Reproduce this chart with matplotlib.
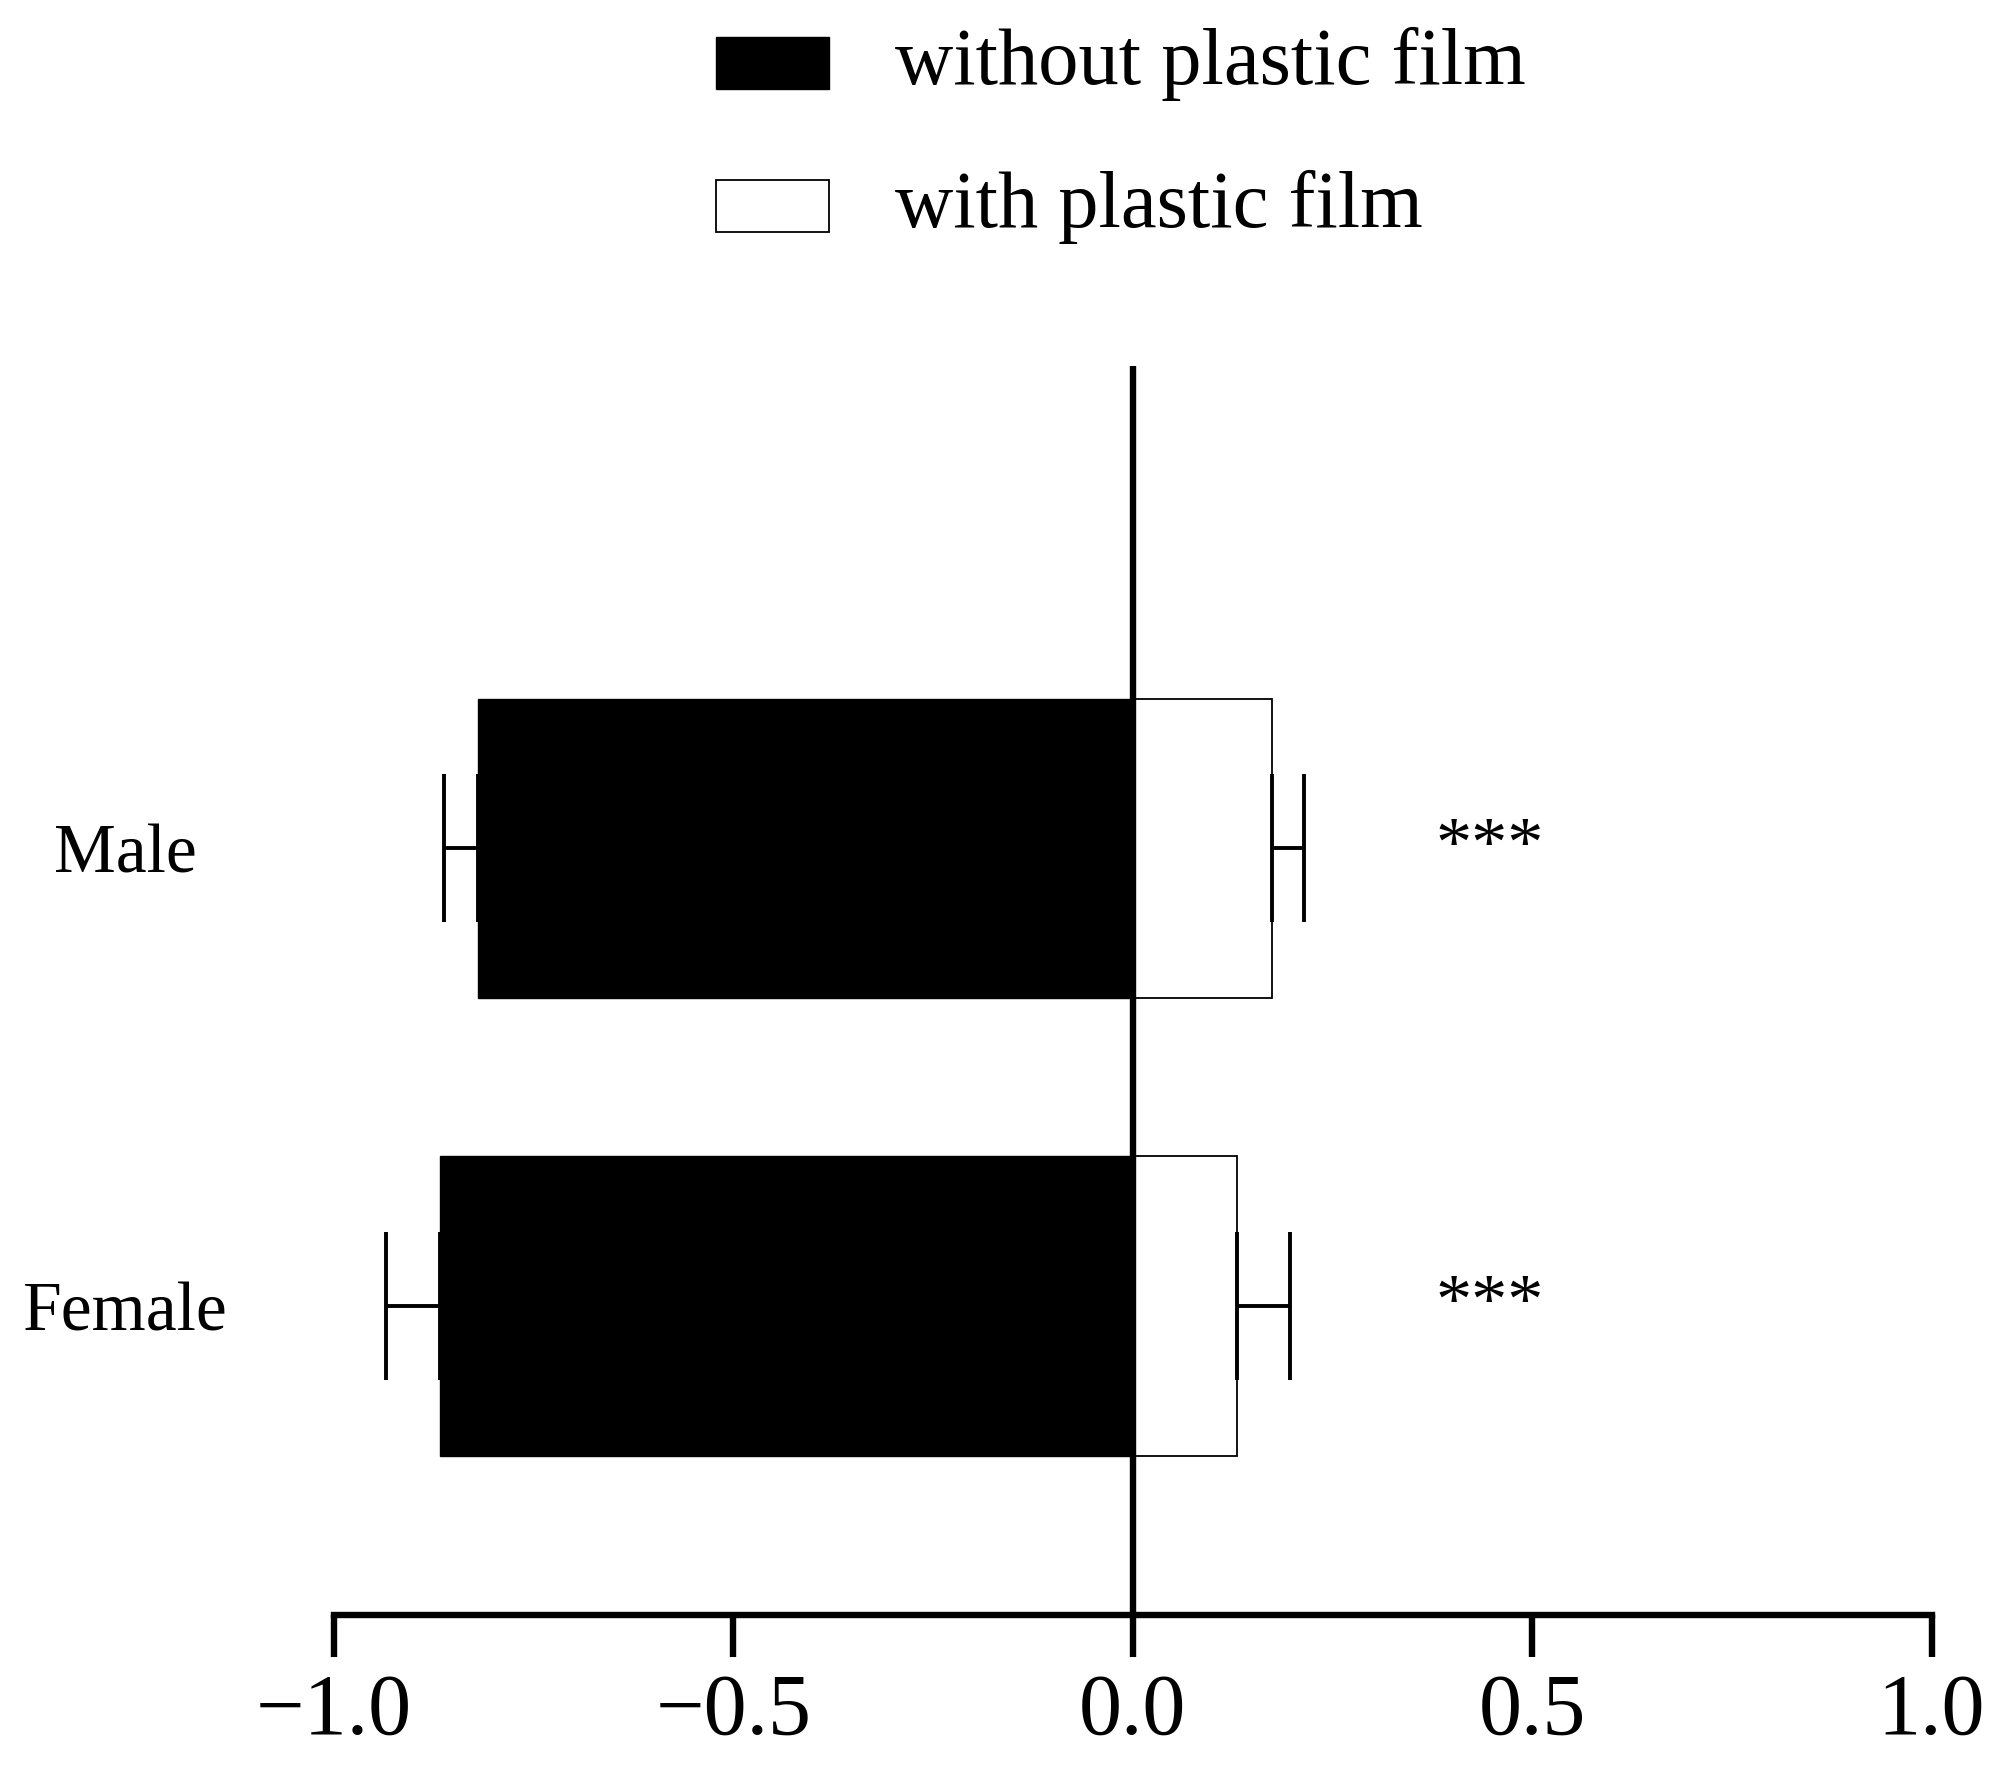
import matplotlib
matplotlib.use("Agg")
import matplotlib.pyplot as plt
from matplotlib.patches import Rectangle

categories = ["Female", "Male"]
without_vals = [-0.867, -0.82]
without_err = [0.068, 0.042]
with_vals = [0.131, 0.174]
with_err = [0.066, 0.041]
sig = ["***", "***"]
xticks = [-1.0, -0.5, 0.0, 0.5, 1.0]

plt.rcParams['font.family'] = ['Liberation Serif', 'DejaVu Serif']
fig = plt.figure(figsize=(20.12, 17.84), dpi=100)
ax = fig.add_axes([0.166, 0.095, 0.794, 0.70])
pos = list(range(len(categories)))
h = 0.655
ax.barh(pos, without_vals, height=h, color='black', edgecolor='black', lw=1, zorder=2)
ax.barh(pos, with_vals, height=h, color='white', edgecolor='black', lw=1.3, zorder=2)
for p, v, e, v2, e2, s in zip(pos, without_vals, without_err, with_vals, with_err, sig):
    ax.errorbar(v, p, xerr=[[e], [0]], fmt='none', ecolor='black', elinewidth=2.8, capsize=53, capthick=2.8, zorder=3)
    ax.errorbar(v2, p, xerr=[[0], [e2]], fmt='none', ecolor='black', elinewidth=2.8, capsize=53, capthick=2.8, zorder=3)
    ax.text(0.447, p, s, ha='center', va='center', fontsize=52)
ax.axvline(0, color='black', lw=4.6, zorder=4)
ax.set_xlim(-1, 1)
ax.set_ylim(-0.675, 2.055)
ax.set_xticks(xticks)
ax.set_xticklabels([f"{t:.1f}".replace('-', '\u2212') for t in xticks], fontsize=62)
ax.tick_params(axis='x', length=30, width=4.6, direction='out', pad=12)
ax.set_yticks(pos)
ax.set_yticklabels(categories, fontsize=50)
for lbl in ax.get_yticklabels():
    lbl.set_horizontalalignment('center')
ax.tick_params(axis='y', length=0, pad=150)
for sp in ['left', 'top', 'right']:
    ax.spines[sp].set_visible(False)
ax.spines['bottom'].set_linewidth(4.6)

fig.add_artist(Rectangle((0.356, 0.950), 0.056, 0.029, transform=fig.transFigure, facecolor='black', edgecolor='black', lw=1))
fig.add_artist(Rectangle((0.356, 0.870), 0.056, 0.029, transform=fig.transFigure, facecolor='white', edgecolor='black', lw=1.3))
fig.text(0.445, 0.964, "without plastic film", fontsize=58, va='center')
fig.text(0.445, 0.884, "with plastic film", fontsize=58, va='center')
fig.savefig("out.png", dpi=100)
